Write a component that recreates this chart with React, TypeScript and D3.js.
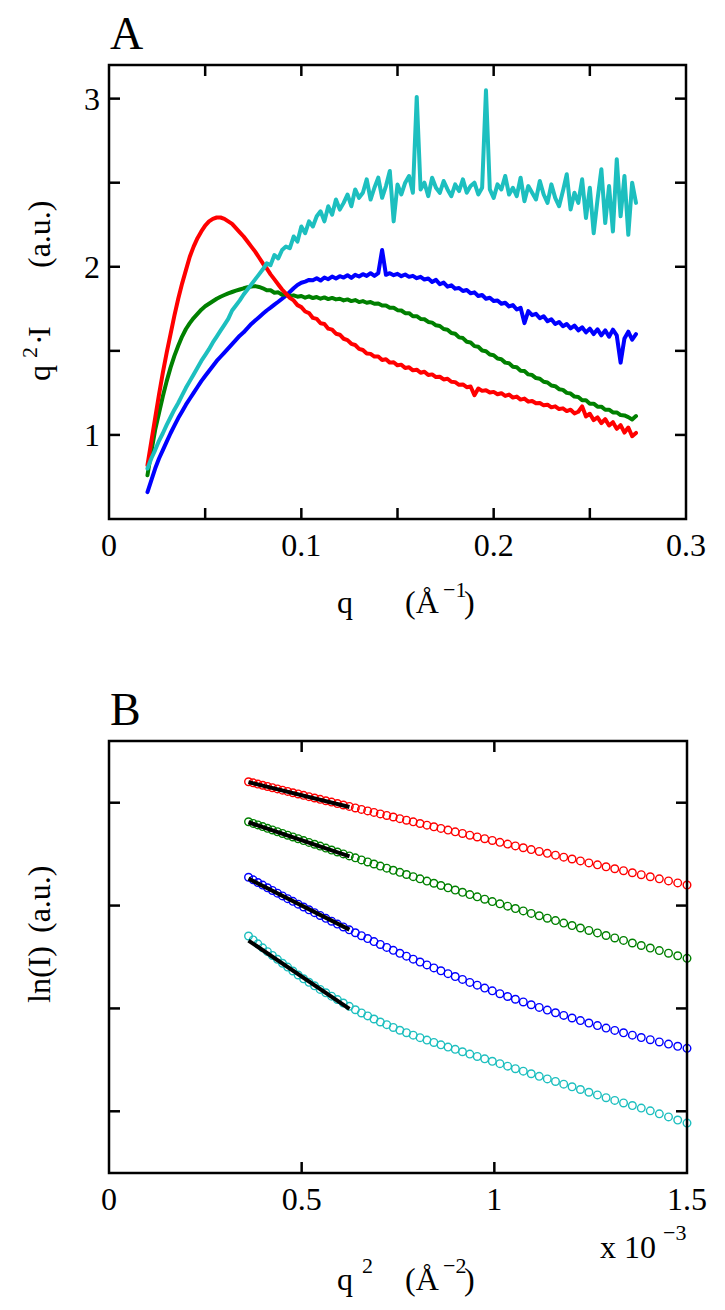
import React from 'react';
import * as d3 from 'd3';

const FONT = '"Liberation Serif", "Times New Roman", serif';

// ---------- Panel A data: q (1/Å) and q^2·I (a.u.) ----------
const qA = [
  0.020, 0.022, 0.024, 0.026, 0.028, 0.030, 0.032, 0.034, 0.036, 0.038,
  0.040, 0.042, 0.044, 0.046, 0.048, 0.050, 0.052, 0.054, 0.056, 0.058,
  0.060, 0.062, 0.064, 0.066, 0.068, 0.070, 0.072, 0.074, 0.076, 0.078,
  0.080, 0.082, 0.084, 0.086, 0.088, 0.090, 0.092, 0.094, 0.096, 0.098,
  0.100, 0.102, 0.104, 0.106, 0.108, 0.110, 0.112, 0.114, 0.116, 0.118,
  0.120, 0.122, 0.124, 0.126, 0.128, 0.130, 0.132, 0.134, 0.136, 0.138,
  0.140, 0.142, 0.144, 0.146, 0.148, 0.150, 0.152, 0.154, 0.156, 0.158,
  0.160, 0.162, 0.164, 0.166, 0.168, 0.170, 0.172, 0.174, 0.176, 0.178,
  0.180, 0.182, 0.184, 0.186, 0.188, 0.190, 0.192, 0.194, 0.196, 0.198,
  0.200, 0.202, 0.204, 0.206, 0.208, 0.210, 0.212, 0.214, 0.216, 0.218,
  0.220, 0.222, 0.224, 0.226, 0.228, 0.230, 0.232, 0.234, 0.236, 0.238,
  0.240, 0.242, 0.244, 0.246, 0.248, 0.250, 0.252, 0.254, 0.256, 0.258,
  0.260, 0.262, 0.264, 0.266, 0.268, 0.270, 0.272, 0.274,
];

const redA = [
  0.82, 0.96, 1.10, 1.24, 1.37, 1.49, 1.60, 1.71, 1.81, 1.90,
  1.98, 2.06, 2.12, 2.17, 2.21, 2.245, 2.27, 2.285, 2.293, 2.293,
  2.285, 2.27, 2.255, 2.23, 2.205, 2.18, 2.15, 2.12, 2.09, 2.055,
  2.02, 1.99, 1.955, 1.925, 1.895, 1.865, 1.84, 1.815, 1.800, 1.772,
  1.760, 1.734, 1.725, 1.696, 1.690, 1.664, 1.660, 1.632, 1.626, 1.602,
  1.596, 1.572, 1.564, 1.542, 1.535, 1.512, 1.505, 1.484, 1.482, 1.466,
  1.466, 1.446, 1.450, 1.430, 1.432, 1.414, 1.418, 1.398, 1.402, 1.384,
  1.388, 1.370, 1.376, 1.356, 1.360, 1.344, 1.346, 1.330, 1.334, 1.316,
  1.314, 1.298, 1.300, 1.284, 1.288, 1.236, 1.276, 1.262, 1.266, 1.252,
  1.256, 1.242, 1.248, 1.232, 1.240, 1.222, 1.228, 1.210, 1.216, 1.198,
  1.202, 1.188, 1.190, 1.176, 1.180, 1.164, 1.170, 1.154, 1.158, 1.142,
  1.150, 1.128, 1.138, 1.170, 1.110, 1.126, 1.088, 1.104, 1.070, 1.094,
  1.056, 1.076, 1.036, 1.058, 1.014, 1.044, 0.992, 1.012,
];

const greenA = [
  0.76, 0.90, 1.03, 1.13, 1.23, 1.32, 1.40, 1.47, 1.53, 1.585,
  1.63, 1.665, 1.695, 1.72, 1.745, 1.765, 1.78, 1.795, 1.81, 1.822,
  1.832, 1.842, 1.850, 1.858, 1.865, 1.872, 1.878, 1.882, 1.885, 1.880,
  1.872, 1.860, 1.860, 1.846, 1.848, 1.834, 1.836, 1.826, 1.830, 1.822,
  1.826, 1.816, 1.824, 1.814, 1.820, 1.810, 1.818, 1.808, 1.815, 1.806,
  1.810, 1.800, 1.806, 1.796, 1.802, 1.790, 1.796, 1.786, 1.790, 1.780,
  1.782, 1.770, 1.770, 1.756, 1.756, 1.742, 1.740, 1.724, 1.724, 1.706,
  1.706, 1.690, 1.688, 1.672, 1.668, 1.652, 1.648, 1.630, 1.626, 1.606,
  1.602, 1.580, 1.576, 1.554, 1.550, 1.528, 1.524, 1.502, 1.498, 1.478,
  1.474, 1.454, 1.450, 1.430, 1.426, 1.406, 1.402, 1.382, 1.380, 1.360,
  1.356, 1.338, 1.334, 1.316, 1.312, 1.294, 1.290, 1.272, 1.268, 1.250,
  1.246, 1.228, 1.226, 1.206, 1.206, 1.186, 1.186, 1.168, 1.168, 1.150,
  1.150, 1.134, 1.134, 1.118, 1.116, 1.106, 1.092, 1.112,
];

const blueA = [
  0.66, 0.73, 0.80, 0.86, 0.91, 0.96, 1.01, 1.055, 1.10, 1.14,
  1.18, 1.215, 1.25, 1.285, 1.32, 1.35, 1.38, 1.41, 1.44, 1.465,
  1.49, 1.515, 1.54, 1.565, 1.59, 1.61, 1.635, 1.66, 1.68, 1.70,
  1.72, 1.74, 1.757, 1.775, 1.792, 1.81, 1.828, 1.85, 1.872, 1.892,
  1.905, 1.912, 1.922, 1.920, 1.932, 1.918, 1.936, 1.926, 1.942, 1.930,
  1.944, 1.936, 1.950, 1.934, 1.952, 1.942, 1.956, 1.946, 1.962, 1.946,
  1.962, 2.10, 1.952, 1.962, 1.950, 1.958, 1.944, 1.954, 1.940, 1.946,
  1.932, 1.940, 1.924, 1.930, 1.910, 1.922, 1.896, 1.906, 1.882, 1.890,
  1.870, 1.874, 1.856, 1.862, 1.842, 1.848, 1.826, 1.832, 1.810, 1.816,
  1.796, 1.800, 1.780, 1.786, 1.764, 1.772, 1.746, 1.756, 1.665, 1.736,
  1.712, 1.720, 1.694, 1.706, 1.676, 1.688, 1.660, 1.672, 1.646, 1.660,
  1.634, 1.650, 1.622, 1.640, 1.610, 1.632, 1.600, 1.628, 1.592, 1.622,
  1.584, 1.626, 1.592, 1.430, 1.574, 1.614, 1.566, 1.600,
];

const cyanA = [
  0.80, 0.86, 0.91, 0.965, 1.01, 1.06, 1.105, 1.15, 1.19, 1.235,
  1.28, 1.32, 1.36, 1.40, 1.44, 1.475, 1.51, 1.55, 1.585, 1.62,
  1.655, 1.69, 1.74, 1.77, 1.80, 1.835, 1.865, 1.895, 1.925, 1.955,
  1.985, 2.02, 2.01, 2.07, 2.05, 2.10, 2.12, 2.11, 2.18, 2.15,
  2.24, 2.20, 2.27, 2.24, 2.30, 2.33, 2.27, 2.36, 2.31, 2.40,
  2.34, 2.38, 2.43, 2.36, 2.46, 2.41, 2.44, 2.52, 2.40, 2.47,
  2.53, 2.41, 2.48, 2.57, 2.27, 2.49, 2.43, 2.50, 2.54, 2.44,
  3.01, 2.46, 2.50, 2.42, 2.53, 2.47, 2.44, 2.51, 2.46, 2.42,
  2.49, 2.45, 2.52, 2.44, 2.48, 2.50, 2.43, 2.47, 3.05, 2.46,
  2.41, 2.49, 2.46, 2.54, 2.43, 2.47, 2.42, 2.53, 2.39, 2.48,
  2.44, 2.40, 2.51, 2.43, 2.38, 2.49, 2.41, 2.36, 2.45, 2.55,
  2.34, 2.44, 2.38, 2.52, 2.29, 2.47, 2.20, 2.40, 2.58, 2.26,
  2.48, 2.21, 2.64, 2.30, 2.54, 2.19, 2.50, 2.38,
];

const xTicksA = [0, 0.05, 0.1, 0.15, 0.2, 0.25, 0.3];
const xLabelsA = ['0', '0.1', '0.2', '0.3'];
const xLabelValsA = [0, 0.1, 0.2, 0.3];
const yTicksA = [1, 1.5, 2, 2.5, 3];
const yLabelsA = ['1', '2', '3'];
const yLabelValsA = [1, 2, 3];

// ---------- Panel B data: q^2 (x10^-3 Å^-2) and ln(I) (a.u.) ----------
const q2B = [
  0.3621, 0.3742, 0.3863, 0.3987, 0.4113, 0.4241, 0.4371, 0.4502, 0.4636, 0.4772,
  0.4909, 0.5049, 0.5190, 0.5334, 0.5479, 0.5627, 0.5776, 0.5927, 0.6081, 0.6236,
  0.6393, 0.6552, 0.6713, 0.6876, 0.7041, 0.7208, 0.7377, 0.7548, 0.7720, 0.7895,
  0.8072, 0.8251, 0.8431, 0.8614, 0.8798, 0.8985, 0.9173, 0.9364, 0.9556, 0.9750,
  0.9947, 1.0145, 1.0345, 1.0547, 1.0751, 1.0957, 1.1165, 1.1375, 1.1587, 1.1801,
  1.2017, 1.2234, 1.2454, 1.2676, 1.2900, 1.3125, 1.3353, 1.3582, 1.3813, 1.4047,
  1.4282, 1.4520, 1.4759, 1.5000,
];

const redB = [
  3.204, 3.193, 3.181, 3.170, 3.158, 3.146, 3.134, 3.122, 3.110, 3.097,
  3.085, 3.072, 3.059, 3.046, 3.033, 3.019, 3.006, 2.992, 2.978, 2.964,
  2.949, 2.935, 2.920, 2.906, 2.891, 2.876, 2.861, 2.845, 2.830, 2.814,
  2.798, 2.782, 2.766, 2.750, 2.734, 2.717, 2.701, 2.684, 2.667, 2.650,
  2.633, 2.615, 2.598, 2.580, 2.562, 2.544, 2.526, 2.508, 2.490, 2.471,
  2.453, 2.434, 2.415, 2.396, 2.377, 2.358, 2.339, 2.319, 2.300, 2.280,
  2.260, 2.240, 2.220, 2.200,
];

const greenB = [
  2.815, 2.799, 2.784, 2.768, 2.751, 2.735, 2.718, 2.701, 2.684, 2.667,
  2.650, 2.632, 2.614, 2.596, 2.578, 2.559, 2.540, 2.521, 2.502, 2.483,
  2.464, 2.444, 2.424, 2.404, 2.384, 2.364, 2.343, 2.323, 2.302, 2.281,
  2.260, 2.238, 2.217, 2.195, 2.173, 2.151, 2.129, 2.107, 2.085, 2.062,
  2.039, 2.017, 1.994, 1.971, 1.948, 1.924, 1.901, 1.877, 1.854, 1.830,
  1.806, 1.782, 1.758, 1.734, 1.709, 1.685, 1.661, 1.636, 1.612, 1.587,
  1.562, 1.537, 1.512, 1.487,
];

const blueB = [
  2.275, 2.250, 2.224, 2.199, 2.173, 2.147, 2.121, 2.094, 2.067, 2.041,
  2.014, 1.986, 1.959, 1.931, 1.904, 1.876, 1.848, 1.820, 1.792, 1.764,
  1.736, 1.707, 1.679, 1.650, 1.622, 1.593, 1.565, 1.536, 1.508, 1.479,
  1.451, 1.423, 1.394, 1.366, 1.338, 1.310, 1.282, 1.253, 1.226, 1.198,
  1.171, 1.143, 1.116, 1.089, 1.063, 1.036, 1.010, 0.984, 0.958, 0.932,
  0.907, 0.882, 0.858, 0.833, 0.809, 0.786, 0.763, 0.740, 0.717, 0.696,
  0.674, 0.653, 0.632, 0.612,
];

const cyanB = [
  1.704, 1.666, 1.628, 1.589, 1.552, 1.515, 1.477, 1.439, 1.402, 1.364,
  1.325, 1.288, 1.254, 1.220, 1.185, 1.152, 1.119, 1.086, 1.053, 1.020,
  0.987, 0.956, 0.927, 0.897, 0.868, 0.842, 0.815, 0.788, 0.764, 0.740,
  0.716, 0.692, 0.669, 0.646, 0.624, 0.602, 0.579, 0.556, 0.533, 0.510,
  0.486, 0.463, 0.439, 0.414, 0.390, 0.365, 0.340, 0.315, 0.290, 0.264,
  0.238, 0.212, 0.185, 0.159, 0.132, 0.106, 0.081, 0.056, 0.031, 0.004,
  -0.025, -0.055, -0.085, -0.115,
];

// Guinier fit segments (start and end q^2, fitted ln(I) at both ends)
const fitQ2 = [0.362, 0.624];
const fitRed = [3.200, 2.958];
const fitGreen = [2.810, 2.478];
const fitBlue = [2.262, 1.766];
const fitCyan = [1.660, 0.995];

const xTicksB = [0, 0.5, 1, 1.5];
const xLabelsB = ['0', '0.5', '1', '1.5'];
const yTicksB = [0, 1, 2, 3];

const RED = '#ff0000';
const GREEN = '#008000';
const BLUE = '#0000ff';
const CYAN = '#1dbfbf';

export default function App() {
  // Panel A scales
  const xA = d3.scaleLinear().domain([0, 0.3]).range([109, 686]);
  const yA = d3.scaleLinear().domain([0.5, 3.2]).range([519, 65]);
  const lineA = d3
    .line<number>()
    .x((_d, i) => xA(qA[i]))
    .y((d) => yA(d));

  // Panel B scales
  const xB = d3.scaleLinear().domain([0, 1.5]).range([109, 687]);
  const yB = d3.scaleLinear().domain([-0.6, 3.6]).range([1173, 741]);
  const fitLine = d3
    .line<number>()
    .x((_d, i) => xB(fitQ2[i]))
    .y((d) => yB(d));

  const TL = 11; // tick length (inward)
  const axisW = 2.5;

  const seriesA = [
    { vals: blueA, color: BLUE },
    { vals: greenA, color: GREEN },
    { vals: redA, color: RED },
    { vals: cyanA, color: CYAN },
  ];
  const seriesB = [
    { vals: redB, color: RED },
    { vals: greenB, color: GREEN },
    { vals: blueB, color: BLUE },
    { vals: cyanB, color: CYAN },
  ];
  const fits = [fitRed, fitGreen, fitBlue, fitCyan];

  const [ax0, ax1] = xA.range();
  const [ay0, ay1] = yA.range(); // bottom, top
  const [bx0, bx1] = xB.range();
  const [by0, by1] = yB.range();

  return (
    <svg
      width={725}
      height={1310}
      style={{ position: 'absolute', left: 0, top: 0, background: '#fff' }}
      fontFamily={FONT}
    >
      <rect x={0} y={0} width={725} height={1310} fill="#fff" />

      {/* ================= Panel A ================= */}
      <text x={110} y={49} fontSize={46}>A</text>

      <g>
        {seriesA.map((s, i) => (
          <path
            key={i}
            d={lineA(s.vals) || ''}
            fill="none"
            stroke={s.color}
            strokeWidth={4}
            strokeLinejoin="round"
            strokeLinecap="round"
          />
        ))}
      </g>

      <rect x={ax0} y={ay1} width={ax1 - ax0} height={ay0 - ay1} fill="none" stroke="#000" strokeWidth={axisW} />
      {xTicksA.slice(1, -1).map((t) => (
        <g key={'xa' + t}>
          <line x1={xA(t)} x2={xA(t)} y1={ay0} y2={ay0 - TL} stroke="#000" strokeWidth={axisW} />
          <line x1={xA(t)} x2={xA(t)} y1={ay1} y2={ay1 + TL} stroke="#000" strokeWidth={axisW} />
        </g>
      ))}
      {yTicksA.map((t) => (
        <g key={'ya' + t}>
          <line x1={ax0} x2={ax0 + TL} y1={yA(t)} y2={yA(t)} stroke="#000" strokeWidth={axisW} />
          <line x1={ax1} x2={ax1 - TL} y1={yA(t)} y2={yA(t)} stroke="#000" strokeWidth={axisW} />
        </g>
      ))}
      {xLabelValsA.map((t, i) => (
        <text key={'xla' + t} x={xA(t)} y={556} fontSize={32} textAnchor="middle">
          {xLabelsA[i]}
        </text>
      ))}
      {yLabelValsA.map((t, i) => (
        <text key={'yla' + t} x={100} y={yA(t) + 11} fontSize={32} textAnchor="end">
          {yLabelsA[i]}
        </text>
      ))}

      {/* x label A */}
      <text x={337} y={613} fontSize={32}>q</text>
      <text x={405} y={613} fontSize={32}>(Å</text>
      <text x={443} y={597} fontSize={22}>−1</text>
      <text x={464} y={613} fontSize={32}>)</text>

      {/* y label A */}
      <g transform="translate(50,0) rotate(-90)">
        <text x={-381} y={0} fontSize={32}>q</text>
        <text x={-358} y={-13} fontSize={22}>2</text>
        <text x={-345} y={0} fontSize={32}>·</text>
        <text x={-337} y={0} fontSize={32}>I</text>
        <text x={-268} y={0} fontSize={32}>(a.u.)</text>
      </g>

      {/* ================= Panel B ================= */}
      <text x={110} y={725} fontSize={46}>B</text>

      <g>
        {seriesB.map((s, si) => (
          <g key={si}>
            {s.vals.map((v, i) => (
              <circle
                key={i}
                cx={xB(q2B[i])}
                cy={yB(v)}
                r={3.8}
                fill="none"
                stroke={s.color}
                strokeWidth={1.4}
              />
            ))}
          </g>
        ))}
        {fits.map((f, i) => (
          <path key={'fit' + i} d={fitLine(f) || ''} stroke="#000" strokeWidth={4} fill="none" />
        ))}
      </g>

      <rect x={bx0} y={by1} width={bx1 - bx0} height={by0 - by1} fill="none" stroke="#000" strokeWidth={axisW} />
      {xTicksB.slice(1, -1).map((t) => (
        <g key={'xb' + t}>
          <line x1={xB(t)} x2={xB(t)} y1={by0} y2={by0 - TL} stroke="#000" strokeWidth={axisW} />
          <line x1={xB(t)} x2={xB(t)} y1={by1} y2={by1 + TL} stroke="#000" strokeWidth={axisW} />
        </g>
      ))}
      {yTicksB.map((t) => (
        <g key={'yb' + t}>
          <line x1={bx0} x2={bx0 + TL} y1={yB(t)} y2={yB(t)} stroke="#000" strokeWidth={axisW} />
          <line x1={bx1} x2={bx1 - TL} y1={yB(t)} y2={yB(t)} stroke="#000" strokeWidth={axisW} />
        </g>
      ))}
      {xTicksB.map((t, i) => (
        <text key={'xlb' + t} x={xB(t)} y={1210} fontSize={32} textAnchor="middle">
          {xLabelsB[i]}
        </text>
      ))}
      <text x={600} y={1258} fontSize={32}>x 10</text>
      <text x={663} y={1240} fontSize={22}>−3</text>

      {/* x label B */}
      <text x={337} y={1290} fontSize={32}>q</text>
      <text x={362} y={1273} fontSize={22}>2</text>
      <text x={405} y={1290} fontSize={32}>(Å</text>
      <text x={443} y={1273} fontSize={22}>−2</text>
      <text x={464} y={1290} fontSize={32}>)</text>

      {/* y label B */}
      <g transform="translate(50,0) rotate(-90)">
        <text x={-1003} y={0} fontSize={32}>ln(I)</text>
        <text x={-933} y={0} fontSize={32}>(a.u.)</text>
      </g>
    </svg>
  );
}
